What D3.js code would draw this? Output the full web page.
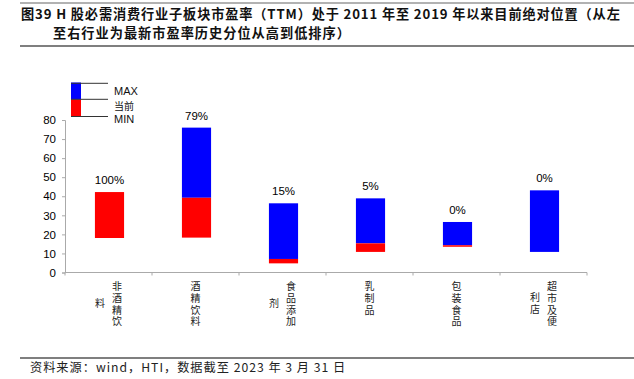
<!DOCTYPE html>
<html>
<head>
<meta charset="utf-8">
<script src="https://cdn.jsdelivr.net/npm/d3@7"></script>
<style>
  body { margin: 0; background: #fff; }
  svg { display: block; }
</style>
</head>
<body>
<div id="chart"></div>
<script>
// data
var categories = ['非酒精饮料', '酒精饮料', '食品添加剂', '乳制品', '包装食品', '超市及便利店'];
var minVals = [18.1, 18.3, 4.8, 10.8, 13.5, 10.8];
var curVals = [42.2, 39.2, 7.1, 15.3, 14.3, 10.8];
var maxVals = [42.2, 76.0, 36.3, 38.9, 26.5, 43.1];
var pctLabels = ['100%', '79%', '15%', '5%', '0%', '0%'];
var yTicks = [0, 10, 20, 30, 40, 50, 60, 70, 80];

var titleLines = [
  '图39 H 股必需消费行业子板块市盈率（TTM）处于 2011 年至 2019 年以来目前绝对位置（从左',
  '至右行业为最新市盈率历史分位从高到低排序）'
];
var sourceText = '资料来源：wind，HTI，数据截至 2023 年 3 月 31 日';

var width = 634, height = 379;
var margin = {top: 120, right: 47, bottom: 106.5, left: 65};

var svg = d3.select('#chart').append('svg')
  .attr('width', width).attr('height', height);

var sans = 'Liberation Sans, Arial, sans-serif';
var cjk = 'Noto Sans CJK SC, sans-serif';

/////////////////// title + rules ///////////////////
svg.append('line').attr('x1', 20).attr('x2', 634).attr('y1', 3).attr('y2', 3)
  .attr('stroke', '#666').attr('stroke-width', 1.2);
svg.selectAll('.title').data(titleLines).enter().append('text')
  .attr('class', 'title')
  .attr('x', (d, i) => i ? 53 : 21)
  .attr('y', (d, i) => 19 + i * 19)
  .style('font-family', cjk)
  .style('font-weight', 'bold')
  .style('font-size', '13.2px')
  .style('letter-spacing', (d, i) => i ? '1px' : '0.85px')
  .attr('fill', '#111')
  .text(d => d);
svg.append('line').attr('x1', 20).attr('x2', 634).attr('y1', 46).attr('y2', 46)
  .attr('stroke', '#555').attr('stroke-width', 1.5);

svg.append('line').attr('x1', 20).attr('x2', 634).attr('y1', 358).attr('y2', 358)
  .attr('stroke', '#555').attr('stroke-width', 1.5);
svg.append('text').attr('x', 30).attr('y', 372)
  .style('font-family', cjk).style('font-size', '12.2px')
  .style('letter-spacing', '1px')
  .attr('fill', '#222').text(sourceText);

/////////////////// scales ///////////////////
var x = d3.scaleBand().domain(categories)
  .range([margin.left, width - margin.right]).padding(0);
var y = d3.scaleLinear().domain([0, 80])
  .range([height - margin.bottom, margin.top]);
var barW = x.bandwidth() * 0.335;

// y axis
var yAxis = svg.append('g')
  .attr('transform', 'translate(' + margin.left + ',0)')
  .call(d3.axisLeft(y).tickValues(yTicks).tickSize(3).tickPadding(6));
yAxis.select('.domain').attr('stroke', '#aaa');
yAxis.selectAll('.tick line').attr('stroke', '#aaa');
yAxis.selectAll('text').style('font-family', sans).style('font-size', '11.5px').attr('fill', '#000');

// x axis: ticks at category boundaries
var x0 = height - margin.bottom;
svg.append('line').attr('x1', margin.left).attr('x2', width - margin.right)
  .attr('y1', x0).attr('y2', x0).attr('stroke', '#aaa');
var bounds = categories.map(d => x(d)).concat([x(categories[categories.length - 1]) + x.bandwidth()]);
svg.selectAll('.xtick').data(bounds).enter().append('line')
  .attr('x1', d => d).attr('x2', d => d)
  .attr('y1', x0).attr('y2', x0 + 3).attr('stroke', '#aaa');

/////////////////// bars ///////////////////
var bars = svg.selectAll('.bar').data(categories).enter().append('g');
// blue: current to max
bars.append('rect')
  .attr('x', d => x(d) + x.bandwidth() / 2 - barW / 2 + 1)
  .attr('width', barW)
  .attr('y', (d, i) => y(maxVals[i]))
  .attr('height', (d, i) => y(curVals[i]) - y(maxVals[i]))
  .attr('fill', '#0000ff');
// red: min to current
bars.append('rect')
  .attr('x', d => x(d) + x.bandwidth() / 2 - barW / 2 + 1)
  .attr('width', barW)
  .attr('y', (d, i) => y(curVals[i]))
  .attr('height', (d, i) => y(minVals[i]) - y(curVals[i]))
  .attr('fill', '#ff0000');
bars.append('text')
  .attr('x', d => x(d) + x.bandwidth() / 2 + 1)
  .attr('y', (d, i) => y(maxVals[i]) - 8)
  .attr('text-anchor', 'middle')
  .style('font-family', sans).style('font-size', '11.5px')
  .text((d, i) => pctLabels[i]);

/////////////////// vertical category labels ///////////////////
// stacked text, 4 chars per column, columns run right to left
var perCol = 4, fs = 10, pitch = 11.7, colGap = 17;
categories.forEach(function(c) {
  var chars = Array.from(c);
  var cols = d3.range(0, chars.length, perCol).map(i => chars.slice(i, i + perCol).join(''));
  var cx = x(c) + x.bandwidth() / 2 + (cols.length - 1) * colGap / 2;
  var top = x0 + 9;
  var mid = top + (perCol * pitch - (pitch - fs)) / 2;
  cols.forEach(function(col, ci) {
    svg.append('text')
      .attr('x', cx - ci * colGap)
      .attr('y', ci === 0 ? top : mid)
      .attr('text-anchor', ci === 0 ? 'start' : 'middle')
      .style('writing-mode', 'vertical-rl')
      .style('letter-spacing', (pitch - fs) + 'px')
      .style('font-family', cjk).style('font-size', fs + 'px')
      .attr('fill', '#222')
      .text(col);
  });
});

/////////////////// legend ///////////////////
var lg = svg.append('g').attr('transform', 'translate(71,82.5)');
lg.append('rect').attr('width', 10).attr('height', 17).attr('fill', '#0000ff');
lg.append('rect').attr('y', 17).attr('width', 10).attr('height', 17.5).attr('fill', '#ff0000');
lg.selectAll('line').data([0.8, 16.8, 34]).enter().append('line')
  .attr('x1', 0).attr('x2', 37).attr('y1', d => d).attr('y2', d => d)
  .attr('stroke', '#333').attr('stroke-width', 1);
lg.selectAll('.lt').data([['MAX', 8.5, sans], ['当前', 23, cjk], ['MIN', 36.5, sans]]).enter().append('text')
  .attr('x', 43).attr('y', d => d[1])
  .attr('dominant-baseline', 'central')
  .style('font-family', d => d[2])
  .style('font-size', d => d[0] === '当前' ? '10px' : '11px')
  .attr('fill', '#111')
  .text(d => d[0]);
</script>
</body>
</html>
